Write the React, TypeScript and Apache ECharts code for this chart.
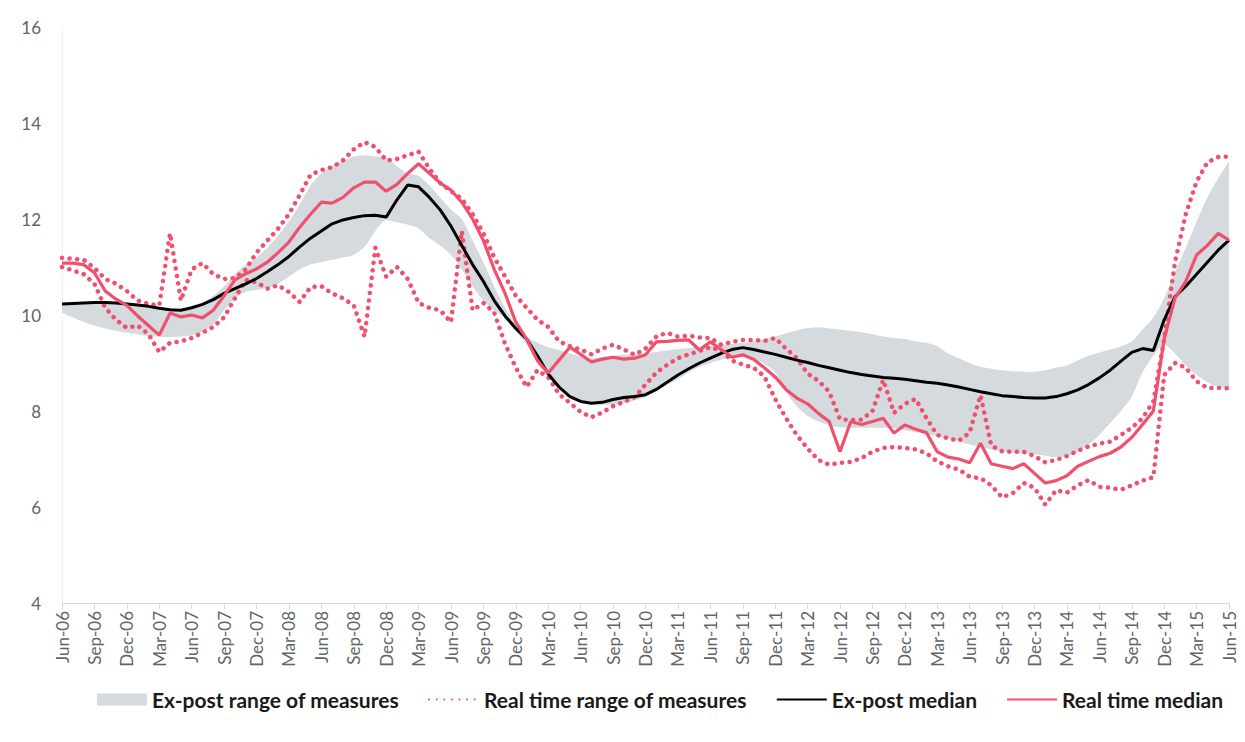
import React, { useEffect, useRef } from "react";
import * as echarts from "echarts";

// ---- categories (monthly, Jun-06 .. Jun-15) ----
const MONTH_NAMES = ["Jan", "Feb", "Mar", "Apr", "May", "Jun", "Jul", "Aug", "Sep", "Oct", "Nov", "Dec"];
const START_MONTH = 5; // Jun
const START_YEAR = 6; // 2006
const N_MONTHS = 109;
const categories: string[] = [];
for (let i = 0; i < N_MONTHS; i++) {
  const m = (START_MONTH + i) % 12;
  const y = START_YEAR + Math.floor((START_MONTH + i) / 12);
  categories.push(`${MONTH_NAMES[m]}-${String(y).padStart(2, "0")}`);
}

// ---- series values ----
const exPostLow = [
  10.05, 9.95, 9.86, 9.78, 9.72, 9.67, 9.63, 9.6, 9.56, 9.54,
  9.54, 9.55, 9.58, 9.65, 9.8, 10.1, 10.35, 10.48, 10.52, 10.56,
  10.65, 10.8, 10.95, 11.05, 11.1, 11.15, 11.2, 11.25, 11.42, 11.75,
  11.98, 11.93, 11.88, 11.8, 11.6, 11.45, 11.25, 10.95, 10.6, 10.3,
  10.1, 9.93, 9.66, 9.38, 9.0, 8.72, 8.45, 8.3, 8.2, 8.15,
  8.13, 8.13, 8.16, 8.22, 8.29, 8.42, 8.55, 8.66, 8.8, 8.92,
  9.0, 9.07, 9.12, 9.13, 9.1, 8.98, 8.8, 8.4, 8.1, 7.9,
  7.78, 7.7, 7.66, 7.65, 7.65, 7.65, 7.65, 7.64, 7.6, 7.56,
  7.52, 7.47, 7.42, 7.37, 7.3, 7.25, 7.2, 7.16, 7.13, 7.12,
  7.1, 7.07, 7.04, 7.05, 7.15, 7.3, 7.5, 7.75, 8.0, 8.3,
  8.8, 9.15, 9.38, 9.2, 8.95, 8.75, 8.6, 8.5, 8.48,
];

const exPostHigh = [
  10.22, 10.22, 10.24, 10.25, 10.25, 10.24, 10.22, 10.2, 10.17, 10.14,
  10.12, 10.12, 10.17, 10.25, 10.4, 10.6, 10.85, 11.05, 11.2, 11.4,
  11.65, 11.95, 12.3, 12.7, 12.95, 13.1, 13.2, 13.3, 13.33, 13.3,
  13.27, 13.1, 12.95, 12.9, 12.7, 12.45, 12.2, 12.0, 11.55, 11.1,
  10.6, 10.15, 9.8, 9.55, 9.42, 9.33, 9.27, 9.2, 9.14, 9.1,
  9.12, 9.15, 9.17, 9.19, 9.2, 9.23, 9.26, 9.29, 9.31, 9.33,
  9.35, 9.37, 9.4, 9.42, 9.46, 9.5, 9.55, 9.62, 9.68, 9.73,
  9.74, 9.72, 9.7, 9.67, 9.64, 9.6, 9.55, 9.52, 9.5, 9.45,
  9.42, 9.35, 9.2, 9.1, 9.0, 8.92, 8.88, 8.85, 8.83, 8.82,
  8.82, 8.85, 8.9, 8.95, 9.05, 9.15, 9.22, 9.28, 9.35, 9.45,
  9.7, 9.95, 10.35, 10.9, 11.4, 11.95, 12.45, 12.85, 13.2,
];

const realTimeHigh = [
  11.19, 11.17, 11.15, 10.98, 10.75, 10.65, 10.5, 10.3, 10.23, 10.2,
  11.7, 10.3, 10.95, 11.08, 10.85, 10.75, 10.77, 10.95, 11.3, 11.55,
  11.8, 12.1, 12.5, 12.92, 13.02, 13.08, 13.22, 13.45, 13.6, 13.5,
  13.22, 13.25, 13.33, 13.4, 13.05, 12.75, 12.58, 12.42, 12.1, 11.7,
  11.2, 10.8, 10.4, 10.15, 9.9, 9.75, 9.45, 9.35, 9.28, 9.18,
  9.3, 9.38, 9.28, 9.17, 9.3, 9.55, 9.63, 9.55, 9.57, 9.53,
  9.52, 9.38, 9.44, 9.48, 9.48, 9.46, 9.52, 9.3, 9.1, 8.78,
  8.63, 8.4, 7.83, 7.81, 7.82, 8.0, 8.65, 7.96, 8.15, 8.25,
  7.85, 7.5, 7.43, 7.38, 7.55, 8.33, 7.28, 7.16, 7.15, 7.15,
  7.06, 6.93, 6.98, 7.06, 7.17, 7.26, 7.32, 7.36, 7.5, 7.65,
  7.85, 8.2, 9.5, 11.1, 12.1, 12.78, 13.18, 13.29, 13.3,
];

const realTimeLow = [
  11.0, 10.93, 10.85, 10.65, 10.15, 9.9, 9.73, 9.78, 9.6, 9.23,
  9.42, 9.45, 9.52, 9.63, 9.75, 9.95, 10.35, 10.73, 10.68, 10.55,
  10.62, 10.48, 10.27, 10.58, 10.6, 10.45, 10.35, 10.2, 9.55, 11.4,
  10.8, 11.0, 10.75, 10.25, 10.15, 10.1, 9.85, 11.75, 10.1, 10.25,
  10.05, 9.4, 8.9, 8.5, 8.85, 8.7, 8.35, 8.17, 7.98, 7.87,
  7.97, 8.1, 8.19, 8.29, 8.55, 8.8, 8.96, 9.1, 9.18, 9.25,
  9.33, 9.26, 9.05, 8.97, 8.9, 8.72, 8.25, 7.85, 7.5, 7.22,
  6.98, 6.88, 6.92, 6.94, 7.02, 7.15, 7.23, 7.25, 7.23, 7.2,
  7.12, 6.95, 6.85, 6.78, 6.63, 6.6, 6.45, 6.2, 6.29, 6.5,
  6.4, 6.05, 6.35, 6.3, 6.45, 6.56, 6.42, 6.4, 6.36, 6.45,
  6.55, 6.62, 8.75, 9.0, 8.9, 8.62, 8.48, 8.48, 8.47,
];

const exPostMedian = [
  10.23, 10.24, 10.25, 10.26, 10.26, 10.25, 10.23, 10.21, 10.18, 10.14,
  10.11, 10.1, 10.15, 10.22, 10.32, 10.45, 10.55, 10.65, 10.76, 10.9,
  11.05, 11.22, 11.42, 11.6, 11.75, 11.9, 11.98, 12.03, 12.07, 12.08,
  12.04, 12.4, 12.71, 12.67, 12.45, 12.19, 11.85, 11.45, 11.05, 10.7,
  10.3, 9.98, 9.72, 9.5, 9.15, 8.77, 8.5, 8.3, 8.2, 8.16,
  8.18, 8.24, 8.28, 8.3, 8.34, 8.45, 8.6, 8.75, 8.88, 9.0,
  9.1, 9.2, 9.28, 9.32, 9.28, 9.23, 9.18, 9.12, 9.06, 9.01,
  8.95, 8.9, 8.85, 8.8, 8.76, 8.73, 8.7, 8.68, 8.66, 8.63,
  8.6, 8.58, 8.54, 8.5, 8.45, 8.4, 8.36, 8.32, 8.3, 8.28,
  8.27, 8.27, 8.3, 8.36, 8.44, 8.55, 8.69, 8.85, 9.04, 9.22,
  9.3, 9.26, 9.9, 10.38, 10.6, 10.85, 11.1, 11.35, 11.56,
];

const realTimeMedian = [
  11.08, 11.08, 11.05, 10.88, 10.5, 10.33, 10.2, 9.98, 9.78, 9.58,
  10.04, 9.96, 10.0, 9.94, 10.1, 10.4, 10.73, 10.86, 10.96, 11.1,
  11.3, 11.52, 11.83, 12.1, 12.35, 12.33, 12.45, 12.65, 12.77, 12.77,
  12.58, 12.72, 12.95, 13.15, 12.95, 12.75, 12.6, 12.35, 12.0, 11.55,
  10.95, 10.45, 9.85, 9.5, 9.05, 8.79, 9.06, 9.33, 9.18, 9.02,
  9.08, 9.12, 9.08, 9.1, 9.17, 9.44, 9.45, 9.47, 9.48, 9.27,
  9.44, 9.28, 9.12, 9.17, 9.08, 8.9, 8.71, 8.45, 8.27, 8.15,
  7.95, 7.78, 7.15, 7.78, 7.72, 7.78, 7.85, 7.54, 7.71, 7.62,
  7.55, 7.15, 7.04, 7.0, 6.92, 7.33, 6.9, 6.85, 6.8, 6.9,
  6.7, 6.5, 6.55, 6.65, 6.85, 6.95, 7.05, 7.12, 7.25, 7.45,
  7.72, 8.0, 9.5, 10.35, 10.7, 11.25, 11.45, 11.7, 11.56,
];

const Y_MIN = 4;
const Y_MAX = 16;
const Y_STEP = 2;

const LEGEND_NAMES = [
  "Ex-post range of measures",
  "Real time range of measures",
  "Ex-post median",
  "Real time median",
];

// ---- styles ----
const GRAY = "#d4dadd";
const RED = "#f0506e";
const BLACK = "#000000";
const AXIS_TEXT = "#5f6569";
const FONT = "Lato, 'Liberation Sans', Arial, sans-serif";

export default function App() {
  const ref = useRef<HTMLDivElement>(null);

  useEffect(() => {
    document.body.style.margin = "0";
    if (!ref.current) return;
    const chart = echarts.init(ref.current, undefined, { renderer: "svg" });

    const bandWidth = exPostHigh.map((v, i) => +(v - exPostLow[i]).toFixed(3));
    const dotted = {
      color: RED,
      width: 4.5,
      type: [0.1, 7.5],
      cap: "round",
    };

    const option: any = {
      animation: false,
      backgroundColor: "#ffffff",
      grid: { left: 62, right: 16, top: 27, bottom: 139, containLabel: false },
      xAxis: {
        type: "category",
        data: categories,
        boundaryGap: false,
        axisLine: { show: true, lineStyle: { color: "#d9d9d9", width: 1 } },
        axisTick: { show: true, interval: 2, length: 6, lineStyle: { color: "#d9d9d9" } },
        axisLabel: {
          interval: 2,
          rotate: 90,
          margin: 8,
          color: AXIS_TEXT,
          fontSize: 17,
          fontFamily: FONT,
        },
        splitLine: { show: false },
      },
      yAxis: {
        type: "value",
        min: Y_MIN,
        max: Y_MAX,
        interval: Y_STEP,
        axisLine: { show: true, lineStyle: { color: "#efefef" } },
        axisTick: { show: false },
        axisLabel: { color: AXIS_TEXT, fontSize: 17, margin: 21, fontFamily: FONT },
        splitLine: { show: false },
      },
      legend: {
        left: 92,
        top: 684,
        itemWidth: 50,
        itemHeight: 12,
        itemGap: 29,
        selectedMode: false,
        textStyle: { fontFamily: FONT, fontWeight: "bold", fontSize: 21, color: "#1a1a1a" },
        data: [
          { name: LEGEND_NAMES[0], icon: "rect", itemStyle: { color: GRAY } },
          { name: LEGEND_NAMES[1], itemStyle: { opacity: 0 } },
          { name: LEGEND_NAMES[2], itemStyle: { opacity: 0 } },
          { name: LEGEND_NAMES[3], itemStyle: { opacity: 0 } },
        ],
      },
      series: [
        {
          name: "exPostBase",
          type: "line",
          stack: "exPost",
          data: exPostLow,
          symbol: "none",
          smooth: 0.3,
          lineStyle: { width: 0, opacity: 0 },
          silent: true,
        },
        {
          name: LEGEND_NAMES[0],
          type: "line",
          stack: "exPost",
          data: bandWidth,
          symbol: "none",
          smooth: 0.3,
          lineStyle: { width: 0, opacity: 0 },
          itemStyle: { color: GRAY },
          areaStyle: { color: GRAY, opacity: 1 },
          silent: true,
        },
        {
          name: LEGEND_NAMES[1],
          type: "line",
          data: realTimeHigh,
          symbol: "none",
          itemStyle: { color: RED },
          lineStyle: dotted,
        },
        {
          name: LEGEND_NAMES[1],
          type: "line",
          data: realTimeLow,
          symbol: "none",
          itemStyle: { color: RED },
          lineStyle: dotted,
        },
        {
          name: LEGEND_NAMES[2],
          type: "line",
          data: exPostMedian,
          symbol: "none",
          itemStyle: { color: BLACK },
          lineStyle: { color: BLACK, width: 3 },
        },
        {
          name: LEGEND_NAMES[3],
          type: "line",
          data: realTimeMedian,
          symbol: "none",
          itemStyle: { color: RED },
          lineStyle: { color: RED, width: 3.2 },
        },
      ],
    };

    chart.setOption(option);
    return () => chart.dispose();
  }, []);

  return (
    <div
      ref={ref}
      style={{ position: "absolute", left: 0, top: 0, width: 1245, height: 742, background: "#fff" }}
    />
  );
}
